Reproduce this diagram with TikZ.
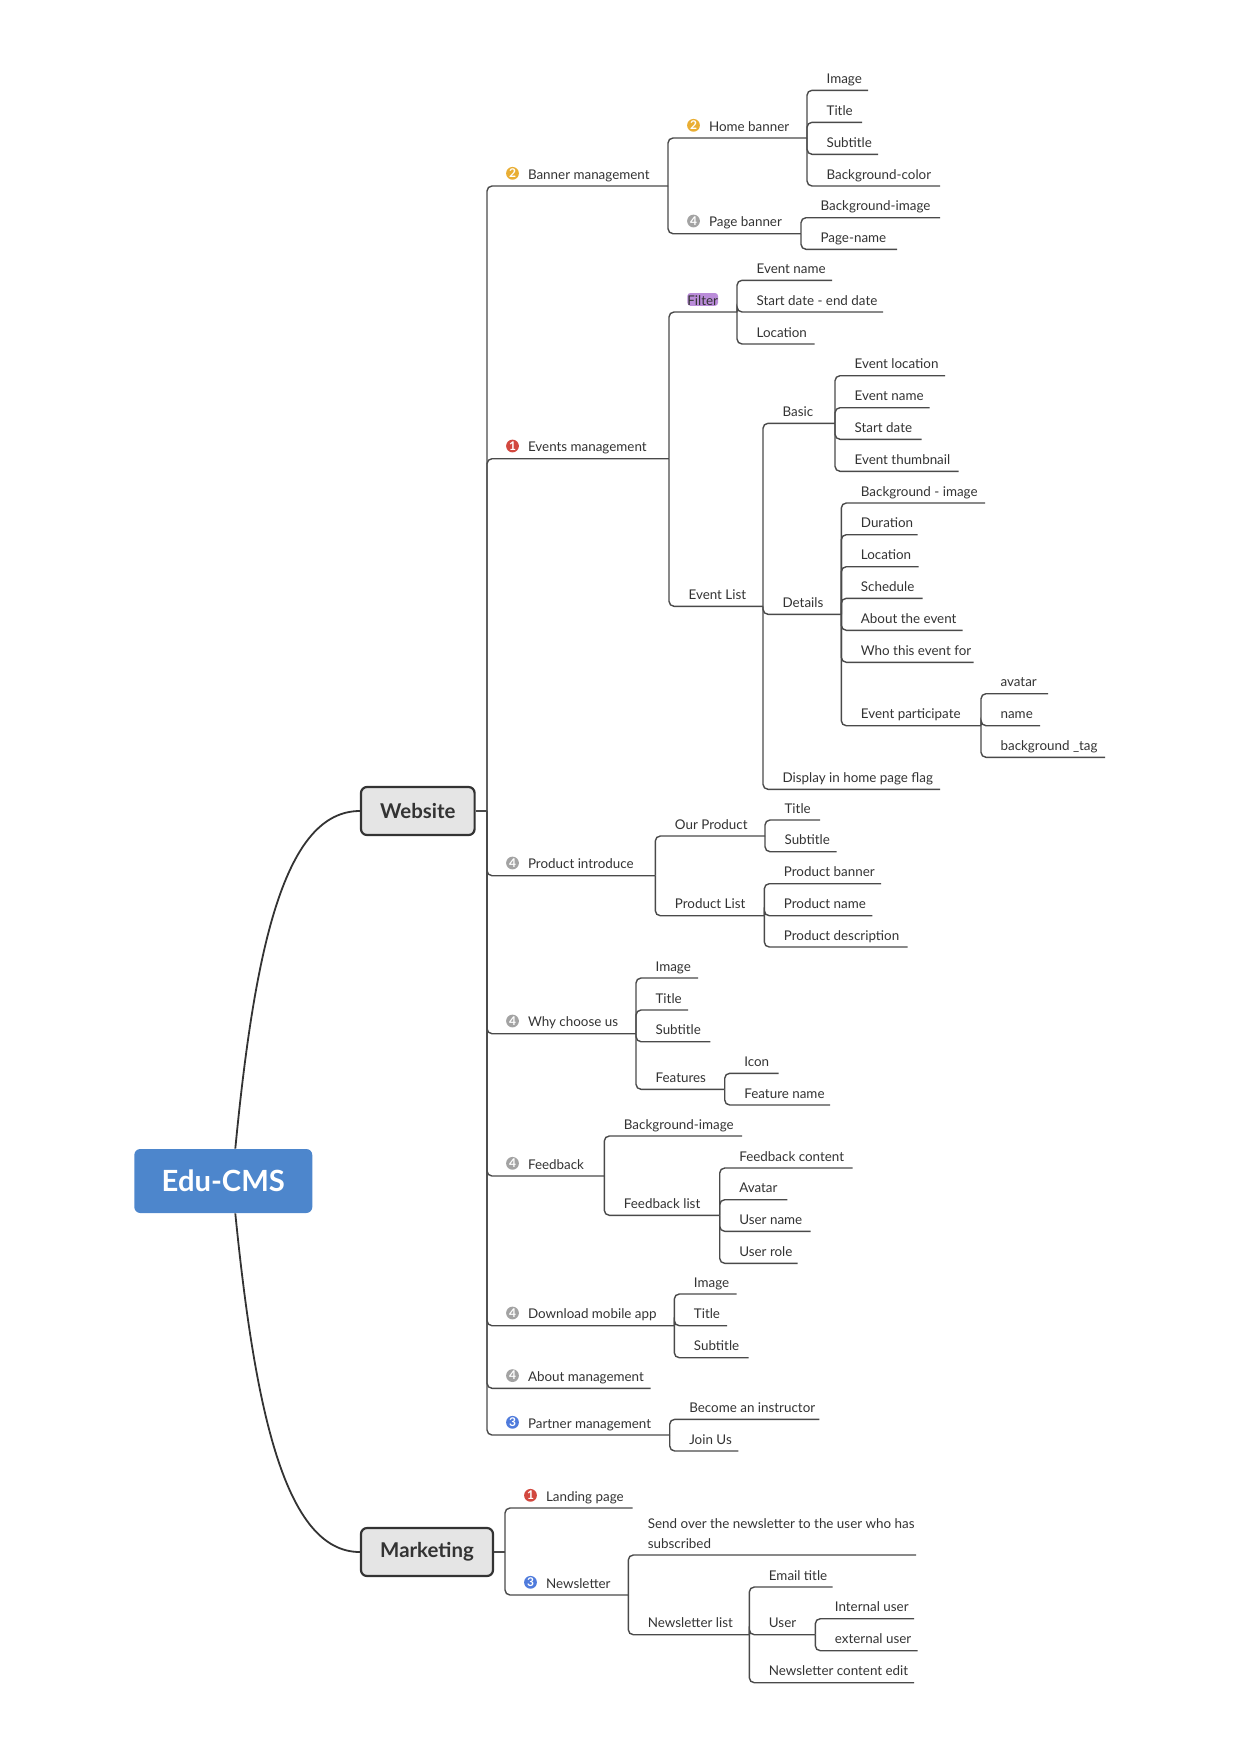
\documentclass[tikz,border=0pt]{standalone}
\usepackage{fontspec}
\setmainfont{Lato}
\usetikzlibrary{positioning}
\definecolor{inkgrey}{HTML}{333333}
\definecolor{linkgrey}{HTML}{4A4A4A}
\definecolor{prior}{HTML}{D2483F}
\definecolor{priob}{HTML}{E9AE34}
\definecolor{prioc}{HTML}{4F7BDC}
\definecolor{priod}{HTML}{A3A3A3}
\definecolor{rootblue}{HTML}{4D86CC}
\definecolor{filterpurple}{HTML}{BA8CD9}
\begin{document}
\begin{tikzpicture}[x=0.5pt,y=-0.5pt]
\tikzstyle{topic} = [anchor=south west,inner sep=0pt,outer sep=0pt,align=flush left,text=inkgrey,font=\fontsize{6.7}{9.6}\selectfont,text height=6pt,text depth=3.5pt]
\tikzstyle{link} = [draw=linkgrey,line width=0.7pt,rounded corners=2.5pt]
\tikzstyle{curve} = [draw=inkgrey,line width=0.9pt]
\tikzstyle{branch} = [draw=inkgrey,fill=black!10,line width=1.1pt,rounded corners=3pt,inner sep=0pt,text=inkgrey,font=\fontsize{10.2}{12}\selectfont\bfseries]
\tikzstyle{prio} = [circle,inner sep=0pt,minimum size=6.4pt,text=white,font=\fontsize{6}{6}\selectfont\bfseries]
\tikzstyle{hub} = [inner sep=0pt,outer sep=0pt,minimum size=0pt]
\useasboundingbox (0,0) rectangle (1239,1752);

% central topic and the two branches
\node[fill=rootblue,rounded corners=3pt,inner sep=0pt,minimum width=89pt,minimum height=32pt,text=white,font=\fontsize{14.6}{16}\selectfont\bfseries] (root) at (223.3,1181) {Edu-CMS};
\node[branch,minimum width=56.8pt,minimum height=24pt] (website) at (417.8,811) {Website};
\node[branch,minimum width=66pt,minimum height=24pt] (marketing) at (427,1552) {Marketing};
\node[hub] (websitehub) at (487,811) {};
\node[hub] (marketinghub) at (505,1552) {};

\draw[curve] ([xshift=6pt]root.north) .. controls (255,945) and (285,811) .. (website.west);
\draw[curve] ([xshift=6pt]root.south) .. controls (255,1410) and (285,1552) .. (marketing.west);
\draw[link] (website.east) -- (websitehub);
\draw[link] (marketing.east) -- (marketinghub);

% topics with a priority icon: name/parent/bus/y/end/number/colour/text
\foreach \tname/\pname/\bus/\ty/\tend/\num/\col/\tlabel in {
bannermgmt/websitehub/487/186/668/2/priob/Banner management,
homebanner/bannermgmt/668/138/807/2/priob/Home banner,
pagebanner/bannermgmt/668/233.7/801/4/priod/Page banner,
eventsmgmt/websitehub/487/458.7/669/1/prior/Events management,
productintro/websitehub/487/875.7/655.3/4/priod/Product introduce,
whychoose/websitehub/487/1033.7/636/4/priod/Why choose us,
feedback/websitehub/487/1176/604.3/4/priod/Feedback,
download/websitehub/487/1325.7/674.3/4/priod/Download mobile app,
aboutmgmt/websitehub/487/1388.3/650.7/4/priod/About management,
partnermgmt/websitehub/487/1435/669.7/3/prioc/Partner management,
landing/marketinghub/505/1508/632.7/1/prior/Landing page,
newsletter/marketinghub/505/1595/628.3/3/prioc/Newsletter%
} {
\pgfmathsetmacro{\tw}{(\tend-\bus)/2}
\node[topic,text width=\tw pt] (\tname) at (\bus,\ty) {\hspace*{20.5pt}\tlabel};
\node[prio,fill=\col] (\tname icon) at ([xshift=12.75pt,yshift=6.35pt]\tname.south west) {\num};
\draw[link] (\pname.south east) |- (\tname.south east);
}

% plain topics: name/parent/bus/y/end/text
\foreach \tname/\pname/\bus/\ty/\tend/\tlabel in {
homeimage/homebanner/807/90.3/868/Image,
hometitle/homebanner/807/122.3/862/Title,
homesubtitle/homebanner/807/154.3/878/Subtitle,
homecolor/homebanner/807/186/940/Background-color,
pageimage/pagebanner/801/217.7/940/Background-image,
pagename/pagebanner/801/249.3/897/Page-name,
filter/eventsmgmt/669/312/737/,
filtername/filter/737/280.3/832/Event name,
filterdate/filter/737/312/883/Start date - end date,
filterplace/filter/737/344/814.6/Location,
eventlist/eventsmgmt/669/606.3/763/Event List,
basic/eventlist/763/423.3/835/Basic,
basicplace/basic/835/375.7/945/Event location,
basicname/basic/835/407.7/929.7/Event name,
basicdate/basic/835/439.3/921.7/Start date,
basicthumb/basic/835/471.3/958.7/Event thumbnail,
details/eventlist/763/614.3/841.3/Details,
detailimage/details/841.3/503/985/Background - image,
detailtime/details/841.3/534.7/917.7/Duration,
detailplace/details/841.3/566.7/918.7/Location,
detailplan/details/841.3/598.3/922.7/Schedule,
detailabout/details/841.3/630.3/962.7/About the event,
detailwho/details/841.3/662.3/973.7/Who this event for,
participate/details/841.3/725.7/981/Event participate,
partavatar/participate/981/693.7/1048/avatar,
partname/participate/981/725.7/1040/name,
parttag/participate/981/757.3/1105/background \_tag,
homeflag/eventlist/763/789.3/940/Display in home page flag,
ourproduct/productintro/655.3/836/765/Our Product,
ourtitle/ourproduct/765/820/820/Title,
oursubtitle/ourproduct/765/851.7/836.7/Subtitle,
productlist/productintro/655.3/915.7/764.3/Product List,
listbanner/productlist/764.3/883.7/881/Product banner,
listname/productlist/764.3/915.7/872.3/Product name,
listtext/productlist/764.3/947/907.7/Product description,
whyimage/whychoose/636/978/698/Image,
whytitle/whychoose/636/1010/688/Title,
whysubtitle/whychoose/636/1041.7/710.3/Subtitle,
features/whychoose/636/1089.3/724.7/Features,
featicon/features/724.7/1073.3/778.7/Icon,
featname/features/724.7/1105/830/Feature name,
feedimage/feedback/604.3/1136/742/Background-image,
feedlist/feedback/604.3/1215.3/719.7/Feedback list,
feedtext/feedlist/719.7/1168/852.7/Feedback content,
feedavatar/feedlist/719.7/1199.7/787.3/Avatar,
feeduser/feedlist/719.7/1231.3/810.7/User name,
feedrole/feedlist/719.7/1263.3/797.7/User role,
appimage/download/674.3/1294/736.7/Image,
apptitle/download/674.3/1325.7/727/Title,
appsubtitle/download/674.3/1357.7/748.7/Subtitle,
instructor/partnermgmt/669.7/1419.3/819.3/Become an instructor,
joinus/partnermgmt/669.7/1451/738.3/Join Us,
newslist/newsletter/628.3/1634.7/749.3/Newsletter list,
emailtitle/newslist/749.3/1587/832.7/Email title,
newsuser/newslist/749.3/1634.7/815.3/User,
userinternal/newsuser/815.3/1618.7/914/Internal user,
userexternal/newsuser/815.3/1650.7/917.7/external user,
newsedit/newslist/749.3/1682.7/914/Newsletter content edit%
} {
\pgfmathsetmacro{\tw}{(\tend-\bus)/2}
\node[topic,text width=\tw pt] (\tname) at (\bus,\ty) {\hspace*{9.8pt}\tlabel};
\draw[link] (\pname.south east) |- (\tname.south east);
}

\node[topic,text width=143.85pt,text depth=13.1pt] (newssend) at (628.3,1555) {\hspace*{9.8pt}Send over the newsletter to the user who has\\\hspace*{9.8pt}subscribed};
\draw[link] (newsletter.south east) |- (newssend.south east);

\node[topic,fill=filterpurple,rounded corners=1.5pt,minimum width=14.3pt,text height=6pt,text depth=0.4pt,anchor=center] (filtertag) at (702.7,299.4) {Filter};

\end{tikzpicture}
\end{document}
